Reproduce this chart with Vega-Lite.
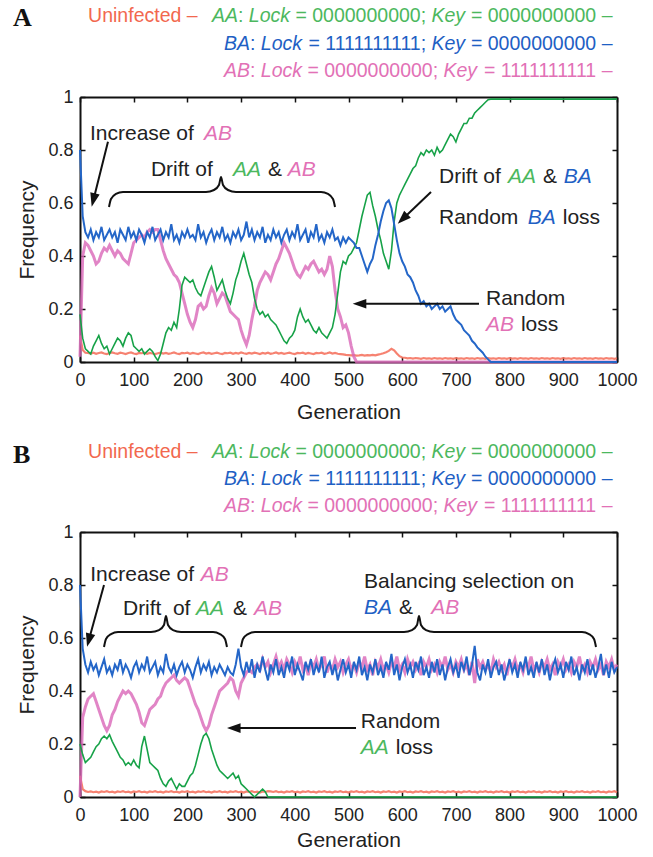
{
"$schema":"https://vega.github.io/schema/vega-lite/v6.json",
"background":"white",
"padding":{"left":12,"top":5,"right":5,"bottom":5},
"spacing":170,
"bounds":"flush",
"datasets":{
"A":[
{"g":0,"U":0.1,"AA":0.18,"BA":0.8,"AB":0.02},
{"g":5,"U":0.045,"AA":0.09,"BA":0.55,"AB":0.4},
{"g":10,"U":0.035,"AA":0.05,"BA":0.49,"AB":0.45},
{"g":15,"U":0.034,"AA":0.04,"BA":0.47,"AB":0.44},
{"g":20,"U":0.032,"AA":0.03,"BA":0.5,"AB":0.42},
{"g":25,"U":0.035,"AA":0.06,"BA":0.46,"AB":0.4},
{"g":30,"U":0.031,"AA":0.08,"BA":0.49,"AB":0.37},
{"g":35,"U":0.034,"AA":0.1,"BA":0.47,"AB":0.38},
{"g":40,"U":0.036,"AA":0.07,"BA":0.51,"AB":0.41},
{"g":45,"U":0.032,"AA":0.05,"BA":0.46,"AB":0.43},
{"g":50,"U":0.03,"AA":0.06,"BA":0.48,"AB":0.42},
{"g":55,"U":0.034,"AA":0.03,"BA":0.5,"AB":0.44},
{"g":60,"U":0.036,"AA":0.05,"BA":0.47,"AB":0.42},
{"g":65,"U":0.033,"AA":0.07,"BA":0.49,"AB":0.4},
{"g":70,"U":0.031,"AA":0.09,"BA":0.45,"AB":0.42},
{"g":75,"U":0.035,"AA":0.08,"BA":0.5,"AB":0.41},
{"g":80,"U":0.033,"AA":0.06,"BA":0.48,"AB":0.39},
{"g":85,"U":0.03,"AA":0.09,"BA":0.46,"AB":0.38},
{"g":90,"U":0.034,"AA":0.11,"BA":0.51,"AB":0.37},
{"g":95,"U":0.036,"AA":0.1,"BA":0.47,"AB":0.41},
{"g":100,"U":0.032,"AA":0.06,"BA":0.49,"AB":0.45},
{"g":105,"U":0.03,"AA":0.05,"BA":0.46,"AB":0.46},
{"g":110,"U":0.034,"AA":0.04,"BA":0.5,"AB":0.47},
{"g":115,"U":0.033,"AA":0.05,"BA":0.48,"AB":0.48},
{"g":120,"U":0.035,"AA":0.03,"BA":0.45,"AB":0.47},
{"g":125,"U":0.031,"AA":0.04,"BA":0.49,"AB":0.49},
{"g":130,"U":0.034,"AA":0.05,"BA":0.47,"AB":0.5},
{"g":135,"U":0.032,"AA":0.04,"BA":0.51,"AB":0.49},
{"g":140,"U":0.03,"AA":0.02,"BA":0.46,"AB":0.5},
{"g":145,"U":0.033,"AA":0.005,"BA":0.48,"AB":0.5},
{"g":150,"U":0.035,"AA":0.03,"BA":0.5,"AB":0.46},
{"g":155,"U":0.032,"AA":0.07,"BA":0.46,"AB":0.42},
{"g":160,"U":0.034,"AA":0.11,"BA":0.49,"AB":0.39},
{"g":165,"U":0.031,"AA":0.13,"BA":0.47,"AB":0.37},
{"g":170,"U":0.033,"AA":0.12,"BA":0.52,"AB":0.35},
{"g":175,"U":0.036,"AA":0.15,"BA":0.46,"AB":0.33},
{"g":180,"U":0.032,"AA":0.13,"BA":0.48,"AB":0.32},
{"g":185,"U":0.03,"AA":0.2,"BA":0.45,"AB":0.3},
{"g":190,"U":0.034,"AA":0.29,"BA":0.49,"AB":0.26},
{"g":195,"U":0.033,"AA":0.32,"BA":0.47,"AB":0.22},
{"g":200,"U":0.035,"AA":0.31,"BA":0.5,"AB":0.18},
{"g":205,"U":0.031,"AA":0.3,"BA":0.47,"AB":0.15},
{"g":210,"U":0.034,"AA":0.31,"BA":0.48,"AB":0.13},
{"g":215,"U":0.032,"AA":0.28,"BA":0.46,"AB":0.16},
{"g":220,"U":0.03,"AA":0.26,"BA":0.52,"AB":0.21},
{"g":225,"U":0.034,"AA":0.25,"BA":0.47,"AB":0.22},
{"g":230,"U":0.036,"AA":0.28,"BA":0.49,"AB":0.2},
{"g":235,"U":0.032,"AA":0.31,"BA":0.45,"AB":0.21},
{"g":240,"U":0.034,"AA":0.34,"BA":0.48,"AB":0.25},
{"g":245,"U":0.031,"AA":0.36,"BA":0.5,"AB":0.28},
{"g":250,"U":0.033,"AA":0.32,"BA":0.46,"AB":0.26},
{"g":255,"U":0.035,"AA":0.27,"BA":0.49,"AB":0.22},
{"g":260,"U":0.032,"AA":0.29,"BA":0.47,"AB":0.24},
{"g":265,"U":0.03,"AA":0.31,"BA":0.51,"AB":0.26},
{"g":270,"U":0.034,"AA":0.27,"BA":0.46,"AB":0.25},
{"g":275,"U":0.033,"AA":0.24,"BA":0.48,"AB":0.22},
{"g":280,"U":0.035,"AA":0.22,"BA":0.45,"AB":0.19},
{"g":285,"U":0.031,"AA":0.26,"BA":0.49,"AB":0.18},
{"g":290,"U":0.034,"AA":0.31,"BA":0.47,"AB":0.17},
{"g":295,"U":0.032,"AA":0.34,"BA":0.5,"AB":0.16},
{"g":300,"U":0.036,"AA":0.38,"BA":0.46,"AB":0.12},
{"g":305,"U":0.033,"AA":0.41,"BA":0.48,"AB":0.09},
{"g":310,"U":0.031,"AA":0.37,"BA":0.53,"AB":0.065},
{"g":315,"U":0.034,"AA":0.33,"BA":0.47,"AB":0.1},
{"g":320,"U":0.032,"AA":0.3,"BA":0.5,"AB":0.16},
{"g":325,"U":0.035,"AA":0.24,"BA":0.46,"AB":0.21},
{"g":330,"U":0.033,"AA":0.2,"BA":0.49,"AB":0.27},
{"g":335,"U":0.03,"AA":0.18,"BA":0.47,"AB":0.3},
{"g":340,"U":0.034,"AA":0.19,"BA":0.51,"AB":0.32},
{"g":345,"U":0.032,"AA":0.17,"BA":0.45,"AB":0.34},
{"g":350,"U":0.035,"AA":0.18,"BA":0.48,"AB":0.33},
{"g":355,"U":0.031,"AA":0.16,"BA":0.46,"AB":0.31},
{"g":360,"U":0.033,"AA":0.15,"BA":0.5,"AB":0.34},
{"g":365,"U":0.036,"AA":0.14,"BA":0.47,"AB":0.37},
{"g":370,"U":0.032,"AA":0.12,"BA":0.49,"AB":0.39},
{"g":375,"U":0.034,"AA":0.1,"BA":0.45,"AB":0.42},
{"g":380,"U":0.031,"AA":0.08,"BA":0.48,"AB":0.45},
{"g":385,"U":0.033,"AA":0.07,"BA":0.5,"AB":0.43},
{"g":390,"U":0.035,"AA":0.09,"BA":0.46,"AB":0.41},
{"g":395,"U":0.032,"AA":0.1,"BA":0.49,"AB":0.38},
{"g":400,"U":0.03,"AA":0.12,"BA":0.47,"AB":0.35},
{"g":405,"U":0.034,"AA":0.17,"BA":0.52,"AB":0.33},
{"g":410,"U":0.033,"AA":0.2,"BA":0.46,"AB":0.32},
{"g":415,"U":0.035,"AA":0.17,"BA":0.48,"AB":0.34},
{"g":420,"U":0.031,"AA":0.15,"BA":0.5,"AB":0.36},
{"g":425,"U":0.034,"AA":0.16,"BA":0.45,"AB":0.35},
{"g":430,"U":0.032,"AA":0.14,"BA":0.49,"AB":0.37},
{"g":435,"U":0.03,"AA":0.12,"BA":0.47,"AB":0.38},
{"g":440,"U":0.034,"AA":0.11,"BA":0.52,"AB":0.36},
{"g":445,"U":0.033,"AA":0.13,"BA":0.46,"AB":0.34},
{"g":450,"U":0.035,"AA":0.11,"BA":0.48,"AB":0.35},
{"g":455,"U":0.031,"AA":0.1,"BA":0.45,"AB":0.33},
{"g":460,"U":0.033,"AA":0.09,"BA":0.49,"AB":0.35},
{"g":465,"U":0.036,"AA":0.11,"BA":0.47,"AB":0.4},
{"g":470,"U":0.032,"AA":0.13,"BA":0.5,"AB":0.36},
{"g":475,"U":0.034,"AA":0.18,"BA":0.46,"AB":0.27},
{"g":480,"U":0.031,"AA":0.26,"BA":0.47,"AB":0.2},
{"g":485,"U":0.03,"AA":0.34,"BA":0.44,"AB":0.17},
{"g":490,"U":0.029,"AA":0.38,"BA":0.47,"AB":0.13},
{"g":495,"U":0.027,"AA":0.37,"BA":0.45,"AB":0.14},
{"g":500,"U":0.026,"AA":0.4,"BA":0.47,"AB":0.11},
{"g":505,"U":0.025,"AA":0.41,"BA":0.46,"AB":0.06},
{"g":510,"U":0.026,"AA":0.43,"BA":0.45,"AB":0.02},
{"g":515,"U":0.024,"AA":0.45,"BA":0.43,"AB":0},
{"g":520,"U":0.025,"AA":0.5,"BA":0.43,"AB":0},
{"g":525,"U":0.027,"AA":0.55,"BA":0.4,"AB":0},
{"g":530,"U":0.024,"AA":0.59,"BA":0.37,"AB":0},
{"g":535,"U":0.026,"AA":0.63,"BA":0.34,"AB":0},
{"g":540,"U":0.025,"AA":0.64,"BA":0.37,"AB":0},
{"g":545,"U":0.027,"AA":0.59,"BA":0.39,"AB":0},
{"g":550,"U":0.025,"AA":0.55,"BA":0.44,"AB":0},
{"g":555,"U":0.028,"AA":0.5,"BA":0.48,"AB":0},
{"g":560,"U":0.03,"AA":0.46,"BA":0.53,"AB":0},
{"g":565,"U":0.033,"AA":0.41,"BA":0.57,"AB":0},
{"g":570,"U":0.037,"AA":0.38,"BA":0.6,"AB":0},
{"g":575,"U":0.042,"AA":0.35,"BA":0.61,"AB":0},
{"g":580,"U":0.05,"AA":0.42,"BA":0.58,"AB":0},
{"g":585,"U":0.044,"AA":0.53,"BA":0.52,"AB":0},
{"g":590,"U":0.032,"AA":0.6,"BA":0.46,"AB":0},
{"g":595,"U":0.022,"AA":0.63,"BA":0.41,"AB":0},
{"g":600,"U":0.017,"AA":0.65,"BA":0.38,"AB":0},
{"g":605,"U":0.016,"AA":0.67,"BA":0.36,"AB":0},
{"g":610,"U":0.014,"AA":0.69,"BA":0.33,"AB":0},
{"g":615,"U":0.015,"AA":0.71,"BA":0.32,"AB":0},
{"g":620,"U":0.013,"AA":0.73,"BA":0.3,"AB":0},
{"g":625,"U":0.015,"AA":0.74,"BA":0.27,"AB":0},
{"g":630,"U":0.014,"AA":0.77,"BA":0.25,"AB":0},
{"g":635,"U":0.012,"AA":0.79,"BA":0.22,"AB":0},
{"g":640,"U":0.015,"AA":0.78,"BA":0.23,"AB":0},
{"g":645,"U":0.013,"AA":0.8,"BA":0.21,"AB":0},
{"g":650,"U":0.014,"AA":0.79,"BA":0.22,"AB":0},
{"g":655,"U":0.012,"AA":0.8,"BA":0.2,"AB":0},
{"g":660,"U":0.015,"AA":0.78,"BA":0.21,"AB":0},
{"g":665,"U":0.013,"AA":0.81,"BA":0.22,"AB":0},
{"g":670,"U":0.014,"AA":0.79,"BA":0.2,"AB":0},
{"g":675,"U":0.012,"AA":0.8,"BA":0.21,"AB":0},
{"g":680,"U":0.015,"AA":0.82,"BA":0.19,"AB":0},
{"g":685,"U":0.013,"AA":0.84,"BA":0.2,"AB":0},
{"g":690,"U":0.014,"AA":0.86,"BA":0.21,"AB":0},
{"g":695,"U":0.012,"AA":0.85,"BA":0.18,"AB":0},
{"g":700,"U":0.015,"AA":0.83,"BA":0.16,"AB":0},
{"g":705,"U":0.013,"AA":0.86,"BA":0.15,"AB":0},
{"g":710,"U":0.014,"AA":0.88,"BA":0.14,"AB":0},
{"g":715,"U":0.012,"AA":0.9,"BA":0.12,"AB":0},
{"g":720,"U":0.015,"AA":0.9,"BA":0.11,"AB":0},
{"g":725,"U":0.013,"AA":0.92,"BA":0.1,"AB":0},
{"g":730,"U":0.014,"AA":0.92,"BA":0.08,"AB":0},
{"g":735,"U":0.012,"AA":0.94,"BA":0.07,"AB":0},
{"g":740,"U":0.015,"AA":0.95,"BA":0.055,"AB":0},
{"g":745,"U":0.013,"AA":0.96,"BA":0.045,"AB":0},
{"g":750,"U":0.014,"AA":0.97,"BA":0.035,"AB":0},
{"g":755,"U":0.012,"AA":0.98,"BA":0.02,"AB":0},
{"g":760,"U":0.015,"AA":0.99,"BA":0.01,"AB":0},
{"g":765,"U":0.013,"AA":0.992,"BA":0,"AB":0},
{"g":770,"U":0.014,"AA":0.992,"BA":0,"AB":0},
{"g":775,"U":0.012,"AA":0.992,"BA":0,"AB":0},
{"g":780,"U":0.015,"AA":0.992,"BA":0,"AB":0},
{"g":785,"U":0.013,"AA":0.992,"BA":0,"AB":0},
{"g":790,"U":0.014,"AA":0.992,"BA":0,"AB":0},
{"g":795,"U":0.012,"AA":0.992,"BA":0,"AB":0},
{"g":800,"U":0.015,"AA":0.992,"BA":0,"AB":0},
{"g":805,"U":0.013,"AA":0.992,"BA":0,"AB":0},
{"g":810,"U":0.014,"AA":0.992,"BA":0,"AB":0},
{"g":815,"U":0.012,"AA":0.992,"BA":0,"AB":0},
{"g":820,"U":0.015,"AA":0.992,"BA":0,"AB":0},
{"g":825,"U":0.013,"AA":0.992,"BA":0,"AB":0},
{"g":830,"U":0.014,"AA":0.992,"BA":0,"AB":0},
{"g":835,"U":0.012,"AA":0.992,"BA":0,"AB":0},
{"g":840,"U":0.015,"AA":0.992,"BA":0,"AB":0},
{"g":845,"U":0.013,"AA":0.992,"BA":0,"AB":0},
{"g":850,"U":0.014,"AA":0.992,"BA":0,"AB":0},
{"g":855,"U":0.012,"AA":0.992,"BA":0,"AB":0},
{"g":860,"U":0.015,"AA":0.992,"BA":0,"AB":0},
{"g":865,"U":0.013,"AA":0.992,"BA":0,"AB":0},
{"g":870,"U":0.014,"AA":0.992,"BA":0,"AB":0},
{"g":875,"U":0.012,"AA":0.992,"BA":0,"AB":0},
{"g":880,"U":0.015,"AA":0.992,"BA":0,"AB":0},
{"g":885,"U":0.013,"AA":0.992,"BA":0,"AB":0},
{"g":890,"U":0.014,"AA":0.992,"BA":0,"AB":0},
{"g":895,"U":0.012,"AA":0.992,"BA":0,"AB":0},
{"g":900,"U":0.015,"AA":0.992,"BA":0,"AB":0},
{"g":905,"U":0.013,"AA":0.992,"BA":0,"AB":0},
{"g":910,"U":0.014,"AA":0.992,"BA":0,"AB":0},
{"g":915,"U":0.012,"AA":0.992,"BA":0,"AB":0},
{"g":920,"U":0.015,"AA":0.992,"BA":0,"AB":0},
{"g":925,"U":0.013,"AA":0.992,"BA":0,"AB":0},
{"g":930,"U":0.014,"AA":0.992,"BA":0,"AB":0},
{"g":935,"U":0.012,"AA":0.992,"BA":0,"AB":0},
{"g":940,"U":0.015,"AA":0.992,"BA":0,"AB":0},
{"g":945,"U":0.013,"AA":0.992,"BA":0,"AB":0},
{"g":950,"U":0.014,"AA":0.992,"BA":0,"AB":0},
{"g":955,"U":0.012,"AA":0.992,"BA":0,"AB":0},
{"g":960,"U":0.015,"AA":0.992,"BA":0,"AB":0},
{"g":965,"U":0.013,"AA":0.992,"BA":0,"AB":0},
{"g":970,"U":0.014,"AA":0.992,"BA":0,"AB":0},
{"g":975,"U":0.012,"AA":0.992,"BA":0,"AB":0},
{"g":980,"U":0.015,"AA":0.992,"BA":0,"AB":0},
{"g":985,"U":0.013,"AA":0.992,"BA":0,"AB":0},
{"g":990,"U":0.014,"AA":0.992,"BA":0,"AB":0},
{"g":995,"U":0.012,"AA":0.992,"BA":0,"AB":0},
{"g":1000,"U":0.014,"AA":0.992,"BA":0,"AB":0}
],
"B":[
{"g":0,"U":0.08,"AA":0.2,"BA":0.8,"AB":0},
{"g":5,"U":0.03,"AA":0.16,"BA":0.56,"AB":0.3},
{"g":10,"U":0.022,"AA":0.13,"BA":0.5,"AB":0.34},
{"g":15,"U":0.019,"AA":0.14,"BA":0.47,"AB":0.37},
{"g":20,"U":0.021,"AA":0.15,"BA":0.51,"AB":0.38},
{"g":25,"U":0.018,"AA":0.17,"BA":0.48,"AB":0.39},
{"g":30,"U":0.02,"AA":0.19,"BA":0.5,"AB":0.36},
{"g":35,"U":0.017,"AA":0.2,"BA":0.46,"AB":0.33},
{"g":40,"U":0.021,"AA":0.22,"BA":0.49,"AB":0.3},
{"g":45,"U":0.019,"AA":0.23,"BA":0.52,"AB":0.27},
{"g":50,"U":0.022,"AA":0.22,"BA":0.47,"AB":0.25},
{"g":55,"U":0.018,"AA":0.235,"BA":0.49,"AB":0.27},
{"g":60,"U":0.02,"AA":0.21,"BA":0.46,"AB":0.31},
{"g":65,"U":0.017,"AA":0.19,"BA":0.5,"AB":0.33},
{"g":70,"U":0.021,"AA":0.17,"BA":0.48,"AB":0.36},
{"g":75,"U":0.019,"AA":0.15,"BA":0.52,"AB":0.38},
{"g":80,"U":0.022,"AA":0.14,"BA":0.47,"AB":0.4},
{"g":85,"U":0.018,"AA":0.12,"BA":0.5,"AB":0.39},
{"g":90,"U":0.02,"AA":0.13,"BA":0.48,"AB":0.4},
{"g":95,"U":0.017,"AA":0.12,"BA":0.45,"AB":0.39},
{"g":100,"U":0.021,"AA":0.14,"BA":0.49,"AB":0.37},
{"g":105,"U":0.019,"AA":0.12,"BA":0.51,"AB":0.35},
{"g":110,"U":0.022,"AA":0.11,"BA":0.47,"AB":0.32},
{"g":115,"U":0.018,"AA":0.19,"BA":0.5,"AB":0.28},
{"g":120,"U":0.02,"AA":0.23,"BA":0.48,"AB":0.27},
{"g":125,"U":0.017,"AA":0.18,"BA":0.53,"AB":0.3},
{"g":130,"U":0.021,"AA":0.13,"BA":0.47,"AB":0.33},
{"g":135,"U":0.019,"AA":0.12,"BA":0.49,"AB":0.34},
{"g":140,"U":0.022,"AA":0.11,"BA":0.51,"AB":0.35},
{"g":145,"U":0.018,"AA":0.1,"BA":0.46,"AB":0.37},
{"g":150,"U":0.02,"AA":0.07,"BA":0.49,"AB":0.38},
{"g":155,"U":0.017,"AA":0.05,"BA":0.47,"AB":0.41},
{"g":160,"U":0.021,"AA":0.04,"BA":0.54,"AB":0.43},
{"g":165,"U":0.019,"AA":0.06,"BA":0.49,"AB":0.44},
{"g":170,"U":0.022,"AA":0.07,"BA":0.47,"AB":0.45},
{"g":175,"U":0.018,"AA":0.05,"BA":0.5,"AB":0.46},
{"g":180,"U":0.02,"AA":0.03,"BA":0.46,"AB":0.44},
{"g":185,"U":0.017,"AA":0.05,"BA":0.49,"AB":0.43},
{"g":190,"U":0.021,"AA":0.04,"BA":0.51,"AB":0.44},
{"g":195,"U":0.019,"AA":0.04,"BA":0.47,"AB":0.45},
{"g":200,"U":0.022,"AA":0.06,"BA":0.5,"AB":0.44},
{"g":205,"U":0.018,"AA":0.08,"BA":0.48,"AB":0.41},
{"g":210,"U":0.02,"AA":0.09,"BA":0.45,"AB":0.38},
{"g":215,"U":0.017,"AA":0.12,"BA":0.49,"AB":0.35},
{"g":220,"U":0.021,"AA":0.16,"BA":0.52,"AB":0.33},
{"g":225,"U":0.019,"AA":0.2,"BA":0.47,"AB":0.3},
{"g":230,"U":0.022,"AA":0.23,"BA":0.5,"AB":0.27},
{"g":235,"U":0.018,"AA":0.24,"BA":0.48,"AB":0.25},
{"g":240,"U":0.02,"AA":0.22,"BA":0.51,"AB":0.27},
{"g":245,"U":0.017,"AA":0.18,"BA":0.46,"AB":0.31},
{"g":250,"U":0.021,"AA":0.15,"BA":0.49,"AB":0.34},
{"g":255,"U":0.019,"AA":0.12,"BA":0.47,"AB":0.37},
{"g":260,"U":0.022,"AA":0.1,"BA":0.5,"AB":0.4},
{"g":265,"U":0.018,"AA":0.09,"BA":0.48,"AB":0.41},
{"g":270,"U":0.02,"AA":0.08,"BA":0.46,"AB":0.42},
{"g":275,"U":0.017,"AA":0.07,"BA":0.49,"AB":0.43},
{"g":280,"U":0.021,"AA":0.08,"BA":0.47,"AB":0.45},
{"g":285,"U":0.019,"AA":0.09,"BA":0.46,"AB":0.44},
{"g":290,"U":0.022,"AA":0.07,"BA":0.5,"AB":0.4},
{"g":295,"U":0.018,"AA":0.08,"BA":0.56,"AB":0.38},
{"g":300,"U":0.02,"AA":0.05,"BA":0.49,"AB":0.43},
{"g":305,"U":0.017,"AA":0.04,"BA":0.46,"AB":0.45},
{"g":310,"U":0.021,"AA":0.03,"BA":0.51,"AB":0.47},
{"g":315,"U":0.019,"AA":0.02,"BA":0.47,"AB":0.48},
{"g":320,"U":0.022,"AA":0.01,"BA":0.52,"AB":0.47},
{"g":325,"U":0.018,"AA":0,"BA":0.45,"AB":0.49},
{"g":330,"U":0.02,"AA":0.01,"BA":0.5,"AB":0.5},
{"g":335,"U":0.017,"AA":0.02,"BA":0.47,"AB":0.48},
{"g":340,"U":0.021,"AA":0.03,"BA":0.53,"AB":0.52},
{"g":345,"U":0.019,"AA":0.02,"BA":0.48,"AB":0.49},
{"g":350,"U":0.022,"AA":0,"BA":0.44,"AB":0.51},
{"g":355,"U":0.021,"AA":0,"BA":0.5,"AB":0.47},
{"g":360,"U":0.019,"AA":0,"BA":0.47,"AB":0.5},
{"g":365,"U":0.022,"AA":0,"BA":0.52,"AB":0.53},
{"g":370,"U":0.018,"AA":0,"BA":0.46,"AB":0.49},
{"g":375,"U":0.02,"AA":0,"BA":0.49,"AB":0.51},
{"g":380,"U":0.017,"AA":0,"BA":0.45,"AB":0.48},
{"g":385,"U":0.021,"AA":0,"BA":0.51,"AB":0.52},
{"g":390,"U":0.019,"AA":0,"BA":0.48,"AB":0.5},
{"g":395,"U":0.022,"AA":0,"BA":0.53,"AB":0.47},
{"g":400,"U":0.018,"AA":0,"BA":0.46,"AB":0.51},
{"g":405,"U":0.02,"AA":0,"BA":0.5,"AB":0.49},
{"g":410,"U":0.017,"AA":0,"BA":0.47,"AB":0.53},
{"g":415,"U":0.021,"AA":0,"BA":0.44,"AB":0.48},
{"g":420,"U":0.019,"AA":0,"BA":0.51,"AB":0.5},
{"g":425,"U":0.022,"AA":0,"BA":0.48,"AB":0.46},
{"g":430,"U":0.018,"AA":0,"BA":0.52,"AB":0.51},
{"g":435,"U":0.02,"AA":0,"BA":0.46,"AB":0.49},
{"g":440,"U":0.017,"AA":0,"BA":0.5,"AB":0.52},
{"g":445,"U":0.021,"AA":0,"BA":0.47,"AB":0.48},
{"g":450,"U":0.019,"AA":0,"BA":0.53,"AB":0.5},
{"g":455,"U":0.022,"AA":0,"BA":0.45,"AB":0.53},
{"g":460,"U":0.018,"AA":0,"BA":0.49,"AB":0.47},
{"g":465,"U":0.02,"AA":0,"BA":0.51,"AB":0.5},
{"g":470,"U":0.017,"AA":0,"BA":0.46,"AB":0.48},
{"g":475,"U":0.021,"AA":0,"BA":0.5,"AB":0.52},
{"g":480,"U":0.019,"AA":0,"BA":0.44,"AB":0.49},
{"g":485,"U":0.022,"AA":0,"BA":0.48,"AB":0.51},
{"g":490,"U":0.018,"AA":0,"BA":0.52,"AB":0.47},
{"g":495,"U":0.02,"AA":0,"BA":0.47,"AB":0.5},
{"g":500,"U":0.017,"AA":0,"BA":0.5,"AB":0.52},
{"g":505,"U":0.021,"AA":0,"BA":0.45,"AB":0.48},
{"g":510,"U":0.019,"AA":0,"BA":0.51,"AB":0.5},
{"g":515,"U":0.022,"AA":0,"BA":0.48,"AB":0.47},
{"g":520,"U":0.018,"AA":0,"BA":0.53,"AB":0.51},
{"g":525,"U":0.02,"AA":0,"BA":0.46,"AB":0.49},
{"g":530,"U":0.017,"AA":0,"BA":0.49,"AB":0.53},
{"g":535,"U":0.021,"AA":0,"BA":0.44,"AB":0.48},
{"g":540,"U":0.019,"AA":0,"BA":0.5,"AB":0.5},
{"g":545,"U":0.022,"AA":0,"BA":0.47,"AB":0.46},
{"g":550,"U":0.018,"AA":0,"BA":0.52,"AB":0.51},
{"g":555,"U":0.02,"AA":0,"BA":0.46,"AB":0.49},
{"g":560,"U":0.017,"AA":0,"BA":0.49,"AB":0.52},
{"g":565,"U":0.021,"AA":0,"BA":0.45,"AB":0.48},
{"g":570,"U":0.019,"AA":0,"BA":0.51,"AB":0.5},
{"g":575,"U":0.022,"AA":0,"BA":0.48,"AB":0.47},
{"g":580,"U":0.018,"AA":0,"BA":0.54,"AB":0.51},
{"g":585,"U":0.02,"AA":0,"BA":0.46,"AB":0.49},
{"g":590,"U":0.017,"AA":0,"BA":0.5,"AB":0.53},
{"g":595,"U":0.021,"AA":0,"BA":0.44,"AB":0.48},
{"g":600,"U":0.019,"AA":0,"BA":0.49,"AB":0.5},
{"g":605,"U":0.022,"AA":0,"BA":0.52,"AB":0.47},
{"g":610,"U":0.018,"AA":0,"BA":0.47,"AB":0.52},
{"g":615,"U":0.02,"AA":0,"BA":0.5,"AB":0.49},
{"g":620,"U":0.017,"AA":0,"BA":0.45,"AB":0.51},
{"g":625,"U":0.021,"AA":0,"BA":0.51,"AB":0.48},
{"g":630,"U":0.019,"AA":0,"BA":0.48,"AB":0.5},
{"g":635,"U":0.022,"AA":0,"BA":0.53,"AB":0.46},
{"g":640,"U":0.018,"AA":0,"BA":0.46,"AB":0.51},
{"g":645,"U":0.02,"AA":0,"BA":0.49,"AB":0.49},
{"g":650,"U":0.017,"AA":0,"BA":0.45,"AB":0.52},
{"g":655,"U":0.021,"AA":0,"BA":0.51,"AB":0.48},
{"g":660,"U":0.019,"AA":0,"BA":0.47,"AB":0.5},
{"g":665,"U":0.022,"AA":0,"BA":0.52,"AB":0.47},
{"g":670,"U":0.018,"AA":0,"BA":0.46,"AB":0.51},
{"g":675,"U":0.02,"AA":0,"BA":0.5,"AB":0.49},
{"g":680,"U":0.017,"AA":0,"BA":0.44,"AB":0.53},
{"g":685,"U":0.021,"AA":0,"BA":0.49,"AB":0.48},
{"g":690,"U":0.019,"AA":0,"BA":0.52,"AB":0.5},
{"g":695,"U":0.022,"AA":0,"BA":0.47,"AB":0.47},
{"g":700,"U":0.018,"AA":0,"BA":0.5,"AB":0.51},
{"g":705,"U":0.02,"AA":0,"BA":0.45,"AB":0.49},
{"g":710,"U":0.017,"AA":0,"BA":0.51,"AB":0.52},
{"g":715,"U":0.021,"AA":0,"BA":0.48,"AB":0.48},
{"g":720,"U":0.019,"AA":0,"BA":0.53,"AB":0.5},
{"g":725,"U":0.022,"AA":0,"BA":0.46,"AB":0.46},
{"g":730,"U":0.018,"AA":0,"BA":0.5,"AB":0.51},
{"g":735,"U":0.02,"AA":0,"BA":0.57,"AB":0.43},
{"g":740,"U":0.017,"AA":0,"BA":0.47,"AB":0.52},
{"g":745,"U":0.021,"AA":0,"BA":0.44,"AB":0.49},
{"g":750,"U":0.019,"AA":0,"BA":0.5,"AB":0.51},
{"g":755,"U":0.022,"AA":0,"BA":0.47,"AB":0.48},
{"g":760,"U":0.018,"AA":0,"BA":0.52,"AB":0.5},
{"g":765,"U":0.02,"AA":0,"BA":0.45,"AB":0.47},
{"g":770,"U":0.017,"AA":0,"BA":0.49,"AB":0.52},
{"g":775,"U":0.021,"AA":0,"BA":0.51,"AB":0.49},
{"g":780,"U":0.019,"AA":0,"BA":0.46,"AB":0.51},
{"g":785,"U":0.022,"AA":0,"BA":0.5,"AB":0.48},
{"g":790,"U":0.018,"AA":0,"BA":0.44,"AB":0.5},
{"g":795,"U":0.02,"AA":0,"BA":0.48,"AB":0.46},
{"g":800,"U":0.017,"AA":0,"BA":0.52,"AB":0.51},
{"g":805,"U":0.021,"AA":0,"BA":0.47,"AB":0.49},
{"g":810,"U":0.019,"AA":0,"BA":0.5,"AB":0.52},
{"g":815,"U":0.022,"AA":0,"BA":0.45,"AB":0.48},
{"g":820,"U":0.018,"AA":0,"BA":0.51,"AB":0.5},
{"g":825,"U":0.02,"AA":0,"BA":0.48,"AB":0.47},
{"g":830,"U":0.017,"AA":0,"BA":0.53,"AB":0.51},
{"g":835,"U":0.021,"AA":0,"BA":0.46,"AB":0.49},
{"g":840,"U":0.019,"AA":0,"BA":0.49,"AB":0.53},
{"g":845,"U":0.022,"AA":0,"BA":0.45,"AB":0.48},
{"g":850,"U":0.018,"AA":0,"BA":0.51,"AB":0.5},
{"g":855,"U":0.02,"AA":0,"BA":0.47,"AB":0.47},
{"g":860,"U":0.017,"AA":0,"BA":0.52,"AB":0.51},
{"g":865,"U":0.021,"AA":0,"BA":0.46,"AB":0.49},
{"g":870,"U":0.019,"AA":0,"BA":0.5,"AB":0.52},
{"g":875,"U":0.022,"AA":0,"BA":0.44,"AB":0.48},
{"g":880,"U":0.018,"AA":0,"BA":0.49,"AB":0.5},
{"g":885,"U":0.02,"AA":0,"BA":0.52,"AB":0.46},
{"g":890,"U":0.017,"AA":0,"BA":0.47,"AB":0.51},
{"g":895,"U":0.021,"AA":0,"BA":0.5,"AB":0.49},
{"g":900,"U":0.019,"AA":0,"BA":0.45,"AB":0.52},
{"g":905,"U":0.022,"AA":0,"BA":0.51,"AB":0.48},
{"g":910,"U":0.018,"AA":0,"BA":0.48,"AB":0.5},
{"g":915,"U":0.02,"AA":0,"BA":0.53,"AB":0.47},
{"g":920,"U":0.017,"AA":0,"BA":0.46,"AB":0.51},
{"g":925,"U":0.021,"AA":0,"BA":0.49,"AB":0.49},
{"g":930,"U":0.019,"AA":0,"BA":0.44,"AB":0.53},
{"g":935,"U":0.022,"AA":0,"BA":0.5,"AB":0.48},
{"g":940,"U":0.018,"AA":0,"BA":0.47,"AB":0.5},
{"g":945,"U":0.02,"AA":0,"BA":0.52,"AB":0.47},
{"g":950,"U":0.017,"AA":0,"BA":0.46,"AB":0.51},
{"g":955,"U":0.021,"AA":0,"BA":0.5,"AB":0.49},
{"g":960,"U":0.019,"AA":0,"BA":0.45,"AB":0.52},
{"g":965,"U":0.022,"AA":0,"BA":0.49,"AB":0.48},
{"g":970,"U":0.018,"AA":0,"BA":0.54,"AB":0.5},
{"g":975,"U":0.02,"AA":0,"BA":0.46,"AB":0.46},
{"g":980,"U":0.017,"AA":0,"BA":0.5,"AB":0.51},
{"g":985,"U":0.021,"AA":0,"BA":0.45,"AB":0.49},
{"g":990,"U":0.019,"AA":0,"BA":0.51,"AB":0.52},
{"g":995,"U":0.022,"AA":0,"BA":0.47,"AB":0.48},
{"g":1000,"U":0.018,"AA":0,"BA":0.49,"AB":0.5}
],
"txt":[
{"p":"A","k":"lab","g":-125,"f":1.298,"t":"A","c":"k"},
{"p":"A","k":"leg","g":219,"f":1.305,"t":"Uninfected –","c":"U"},
{"p":"A","k":"leg","g":991.6,"f":1.305,"t":"= 0000000000 –","c":"AA"},
{"p":"A","k":"legi","g":717.1,"f":1.305,"t":"Key","c":"AA"},
{"p":"A","k":"leg","g":644.5,"f":1.305,"t":"= 0000000000;","c":"AA"},
{"p":"A","k":"legi","g":391.1,"f":1.305,"t":"Lock","c":"AA"},
{"p":"A","k":"leg","g":304.3,"f":1.305,"t":":","c":"AA"},
{"p":"A","k":"legi","g":294.2,"f":1.305,"t":"AA","c":"AA"},
{"p":"A","k":"leg","g":991.6,"f":1.2,"t":"= 0000000000 –","c":"BA"},
{"p":"A","k":"legi","g":717.1,"f":1.2,"t":"Key","c":"BA"},
{"p":"A","k":"leg","g":644.5,"f":1.2,"t":"= 1111111111;","c":"BA"},
{"p":"A","k":"legi","g":413.4,"f":1.2,"t":"Lock","c":"BA"},
{"p":"A","k":"leg","g":326.6,"f":1.2,"t":":","c":"BA"},
{"p":"A","k":"legi","g":316.6,"f":1.2,"t":"BA","c":"BA"},
{"p":"A","k":"leg","g":991.6,"f":1.098,"t":"= 1111111111 –","c":"AB"},
{"p":"A","k":"legi","g":739.5,"f":1.098,"t":"Key","c":"AB"},
{"p":"A","k":"leg","g":666.9,"f":1.098,"t":"= 0000000000;","c":"AB"},
{"p":"A","k":"legi","g":413.4,"f":1.098,"t":"Lock","c":"AB"},
{"p":"A","k":"leg","g":326.6,"f":1.098,"t":":","c":"AB"},
{"p":"A","k":"legi","g":316.6,"f":1.098,"t":"AB","c":"AB"},
{"p":"A","k":"n","g":18.6,"f":0.86,"t":"Increase of","c":"k"},
{"p":"A","k":"i","g":231,"f":0.86,"t":"AB","c":"AB"},
{"p":"A","k":"n","g":132,"f":0.725,"t":"Drift of","c":"k"},
{"p":"A","k":"i","g":285,"f":0.725,"t":"AA","c":"AA"},
{"p":"A","k":"n","g":350,"f":0.725,"t":"&","c":"k"},
{"p":"A","k":"i","g":387,"f":0.725,"t":"AB","c":"AB"},
{"p":"A","k":"n","g":668.5,"f":0.698,"t":"Drift of","c":"k"},
{"p":"A","k":"i","g":797,"f":0.698,"t":"AA","c":"AA"},
{"p":"A","k":"n","g":862,"f":0.698,"t":"&","c":"k"},
{"p":"A","k":"i","g":901,"f":0.698,"t":"BA","c":"BA"},
{"p":"A","k":"n","g":668.5,"f":0.543,"t":"Random","c":"k"},
{"p":"A","k":"i","g":834,"f":0.543,"t":"BA","c":"BA"},
{"p":"A","k":"n","g":899,"f":0.543,"t":"loss","c":"k"},
{"p":"A","k":"n","g":756,"f":0.238,"t":"Random","c":"k"},
{"p":"A","k":"i","g":756,"f":0.14,"t":"AB","c":"AB"},
{"p":"A","k":"n","g":821,"f":0.14,"t":"loss","c":"k"},
{"p":"B","k":"lab","g":-125,"f":1.29,"t":"B","c":"k"},
{"p":"B","k":"leg","g":219,"f":1.302,"t":"Uninfected –","c":"U"},
{"p":"B","k":"leg","g":991.6,"f":1.302,"t":"= 0000000000 –","c":"AA"},
{"p":"B","k":"legi","g":717.1,"f":1.302,"t":"Key","c":"AA"},
{"p":"B","k":"leg","g":644.5,"f":1.302,"t":"= 0000000000;","c":"AA"},
{"p":"B","k":"legi","g":391.1,"f":1.302,"t":"Lock","c":"AA"},
{"p":"B","k":"leg","g":304.3,"f":1.302,"t":":","c":"AA"},
{"p":"B","k":"legi","g":294.2,"f":1.302,"t":"AA","c":"AA"},
{"p":"B","k":"leg","g":991.6,"f":1.2,"t":"= 0000000000 –","c":"BA"},
{"p":"B","k":"legi","g":717.1,"f":1.2,"t":"Key","c":"BA"},
{"p":"B","k":"leg","g":644.5,"f":1.2,"t":"= 1111111111;","c":"BA"},
{"p":"B","k":"legi","g":413.4,"f":1.2,"t":"Lock","c":"BA"},
{"p":"B","k":"leg","g":326.6,"f":1.2,"t":":","c":"BA"},
{"p":"B","k":"legi","g":316.6,"f":1.2,"t":"BA","c":"BA"},
{"p":"B","k":"leg","g":991.6,"f":1.098,"t":"= 1111111111 –","c":"AB"},
{"p":"B","k":"legi","g":739.5,"f":1.098,"t":"Key","c":"AB"},
{"p":"B","k":"leg","g":666.9,"f":1.098,"t":"= 0000000000;","c":"AB"},
{"p":"B","k":"legi","g":413.4,"f":1.098,"t":"Lock","c":"AB"},
{"p":"B","k":"leg","g":326.6,"f":1.098,"t":":","c":"AB"},
{"p":"B","k":"legi","g":316.6,"f":1.098,"t":"AB","c":"AB"},
{"p":"B","k":"n","g":19,"f":0.838,"t":"Increase of","c":"k"},
{"p":"B","k":"i","g":225,"f":0.838,"t":"AB","c":"AB"},
{"p":"B","k":"n","g":80,"f":0.709,"t":"Drift","c":"k"},
{"p":"B","k":"n","g":173,"f":0.709,"t":"of","c":"k"},
{"p":"B","k":"i","g":216,"f":0.709,"t":"AA","c":"AA"},
{"p":"B","k":"n","g":285,"f":0.709,"t":"&","c":"k"},
{"p":"B","k":"i","g":324,"f":0.709,"t":"AB","c":"AB"},
{"p":"B","k":"n","g":529,"f":0.811,"t":"Balancing selection on","c":"k"},
{"p":"B","k":"i","g":529,"f":0.713,"t":"BA","c":"BA"},
{"p":"B","k":"n","g":594,"f":0.713,"t":"&","c":"k"},
{"p":"B","k":"i","g":654,"f":0.713,"t":"AB","c":"AB"},
{"p":"B","k":"n","g":523,"f":0.283,"t":"Random","c":"k"},
{"p":"B","k":"i","g":523,"f":0.185,"t":"AA","c":"AA"},
{"p":"B","k":"n","g":588,"f":0.185,"t":"loss","c":"k"}
],
"arr":[
{"p":"A","g":25.4,"f":0.6155,"g2":52.1,"f2":0.831,"a":194},
{"p":"A","g":602.4,"f":0.5426,"g2":653.6,"f2":0.6415,"a":226},
{"p":"A","g":522.7,"f":0.22,"g2":743,"f2":0.22,"a":270},
{"p":"B","g":17,"f":0.596,"g2":44.7,"f2":0.8,"a":195},
{"p":"B","g":288.6,"f":0.26,"g2":514,"f2":0.26,"a":270}
],
"br":[
{"p":"A","b":"a1","g":54.0,"f":0.585},
{"p":"A","b":"a1","g":57.7,"f":0.615},
{"p":"A","b":"a1","g":67.0,"f":0.634},
{"p":"A","b":"a1","g":80.1,"f":0.6415},
{"p":"A","b":"a1","g":234.6,"f":0.6415},
{"p":"A","b":"a1","g":249.5,"f":0.649},
{"p":"A","b":"a1","g":258.8,"f":0.668},
{"p":"A","b":"a1","g":262.6,"f":0.698},
{"p":"A","b":"a1","g":266.3,"f":0.668},
{"p":"A","b":"a1","g":275.6,"f":0.649},
{"p":"A","b":"a1","g":290.5,"f":0.6415},
{"p":"A","b":"a1","g":448.8,"f":0.6415},
{"p":"A","b":"a1","g":461.8,"f":0.634},
{"p":"A","b":"a1","g":471.1,"f":0.615},
{"p":"A","b":"a1","g":474.9,"f":0.585},
{"p":"B","b":"b1","g":44.7,"f":0.566},
{"p":"B","b":"b1","g":48.4,"f":0.596},
{"p":"B","b":"b1","g":57.7,"f":0.615},
{"p":"B","b":"b1","g":70.8,"f":0.623},
{"p":"B","b":"b1","g":132.2,"f":0.623},
{"p":"B","b":"b1","g":147.1,"f":0.63},
{"p":"B","b":"b1","g":156.4,"f":0.649},
{"p":"B","b":"b1","g":160.1,"f":0.683},
{"p":"B","b":"b1","g":163.9,"f":0.649},
{"p":"B","b":"b1","g":173.2,"f":0.63},
{"p":"B","b":"b1","g":188.1,"f":0.623},
{"p":"B","b":"b1","g":247.7,"f":0.623},
{"p":"B","b":"b1","g":260.7,"f":0.615},
{"p":"B","b":"b1","g":270.0,"f":0.596},
{"p":"B","b":"b1","g":273.7,"f":0.566},
{"p":"B","b":"b2","g":299.8,"f":0.566},
{"p":"B","b":"b2","g":303.5,"f":0.596},
{"p":"B","b":"b2","g":312.8,"f":0.615},
{"p":"B","b":"b2","g":325.9,"f":0.623},
{"p":"B","b":"b2","g":603.4,"f":0.623},
{"p":"B","b":"b2","g":618.2,"f":0.63},
{"p":"B","b":"b2","g":627.6,"f":0.649},
{"p":"B","b":"b2","g":631.3,"f":0.683},
{"p":"B","b":"b2","g":635.0,"f":0.649},
{"p":"B","b":"b2","g":644.3,"f":0.63},
{"p":"B","b":"b2","g":659.2,"f":0.623},
{"p":"B","b":"b2","g":934.8,"f":0.623},
{"p":"B","b":"b2","g":947.9,"f":0.615},
{"p":"B","b":"b2","g":957.2,"f":0.596},
{"p":"B","b":"b2","g":960.9,"f":0.566}
]
},
"vconcat":[
{
"width":537,"height":265,
"encoding":{
"x":{"field":"g","type":"quantitative","scale":{"domain":[0,1000],"nice":false,"zero":false},"axis":null},
"y":{"field":"f","type":"quantitative","scale":{"domain":[0,1],"nice":false,"zero":false},"axis":null}
},
"layer":[
{"data":{"name":"A"},"transform":[{"fold":["U","AA","BA","AB"],"as":["s","f"]},{"filter":"datum.s==='U'"}],
"mark":{"type":"line","color":"#f46c58","strokeWidth":2.2,"opacity":0.85},
"encoding":{
"x":{"field":"g","type":"quantitative","scale":{"domain":[0,1000],"nice":false,"zero":false},"axis":{"orient":"bottom","values":[0,100,200,300,400,500,600,700,800,900,1000],"format":"d","title":"Generation","tickSize":-5,"labelPadding":14,"titlePadding":12}},
"y":{"field":"f","type":"quantitative","scale":{"domain":[0,1],"nice":false,"zero":false},"axis":{"orient":"left","values":[0,0.2,0.4,0.6,0.8,1],"format":"~g","title":"Frequency","tickSize":-5,"labelPadding":12,"titlePadding":10}}
}},
{"data":{"name":"A"},"transform":[{"fold":["U","AA","BA","AB"],"as":["s","f"]},{"filter":"datum.s==='AB'"}],
"mark":{"type":"line","color":"#d966b8","strokeWidth":3,"opacity":0.8},
"encoding":{
"x":{"field":"g","type":"quantitative","scale":{"domain":[0,1000],"nice":false,"zero":false},"axis":{"orient":"top","values":[0,100,200,300,400,500,600,700,800,900,1000],"labels":false,"title":null,"tickSize":-5}},
"y":{"field":"f","type":"quantitative","scale":{"domain":[0,1],"nice":false,"zero":false},"axis":{"orient":"right","values":[0,0.2,0.4,0.6,0.8,1],"labels":false,"title":null,"tickSize":-5}}
}},
{"data":{"name":"A"},"transform":[{"fold":["U","AA","BA","AB"],"as":["s","f"]},{"filter":"datum.s==='AA'"}],
"mark":{"type":"line","color":"#17a248","strokeWidth":1.6}},
{"data":{"name":"A"},"transform":[{"fold":["U","AA","BA","AB"],"as":["s","f"]},{"filter":"datum.s==='BA'"}],
"mark":{"type":"line","color":"#2466c8","strokeWidth":2}},
{"data":{"name":"br"},"transform":[{"filter":"datum.p==='A'"}],
"mark":{"type":"line","color":"#111","strokeWidth":2,"interpolate":"monotone"},
"encoding":{"detail":{"field":"b"}}},
{"data":{"name":"arr"},"transform":[{"filter":"datum.p==='A'"}],
"mark":{"type":"rule","color":"#111","strokeWidth":2},
"encoding":{"x2":{"field":"g2"},"y2":{"field":"f2"}}},
{"data":{"name":"arr"},"transform":[{"filter":"datum.p==='A'"}],
"mark":{"type":"point","shape":"M0,-1L0.6,0.7L-0.6,0.7Z","filled":true,"color":"#111","opacity":1,"size":256,"strokeWidth":0},
"encoding":{"angle":{"field":"a","type":"quantitative","scale":null}}},
{"data":{"name":"txt"},"transform":[{"filter":"datum.p==='A' && datum.k==='leg'"}],
"mark":{"type":"text","align":"right","baseline":"middle","font":"Liberation Sans","fontSize":19.5,"clip":false},
"encoding":{"text":{"field":"t"},"color":{"field":"c","type":"nominal","scale":{"domain":["k","U","AA","BA","AB"],"range":["#222222","#f2684e","#4cb85e","#1e60c4","#e271b6"]},"legend":null}}},
{"data":{"name":"txt"},"transform":[{"filter":"datum.p==='A' && datum.k==='legi'"}],
"mark":{"type":"text","align":"right","baseline":"middle","font":"Liberation Sans","fontSize":19.5,"fontStyle":"italic","clip":false},
"encoding":{"text":{"field":"t"},"color":{"field":"c","type":"nominal","scale":{"domain":["k","U","AA","BA","AB"],"range":["#222222","#f2684e","#4cb85e","#1e60c4","#e271b6"]},"legend":null}}},
{"data":{"name":"txt"},"transform":[{"filter":"datum.p==='A' && datum.k==='n'"}],
"mark":{"type":"text","align":"left","baseline":"middle","font":"Liberation Sans","fontSize":21,"color":"#222","clip":false},
"encoding":{"text":{"field":"t"}}},
{"data":{"name":"txt"},"transform":[{"filter":"datum.p==='A' && datum.k==='i'"}],
"mark":{"type":"text","align":"left","baseline":"middle","font":"Liberation Sans","fontSize":21,"fontStyle":"italic","clip":false},
"encoding":{"text":{"field":"t"},"color":{"field":"c","type":"nominal","scale":{"domain":["k","U","AA","BA","AB"],"range":["#222222","#f2684e","#4cb85e","#1e60c4","#e271b6"]},"legend":null}}},
{"data":{"name":"txt"},"transform":[{"filter":"datum.p==='A' && datum.k==='lab'"}],
"mark":{"type":"text","align":"left","baseline":"middle","font":"Liberation Serif","fontSize":26,"fontWeight":"bold","color":"#111","clip":false},
"encoding":{"text":{"field":"t"}}}
]
},
{
"width":537,"height":265,
"encoding":{
"x":{"field":"g","type":"quantitative","scale":{"domain":[0,1000],"nice":false,"zero":false},"axis":null},
"y":{"field":"f","type":"quantitative","scale":{"domain":[0,1],"nice":false,"zero":false},"axis":null}
},
"layer":[
{"data":{"name":"B"},"transform":[{"fold":["U","AA","BA","AB"],"as":["s","f"]},{"filter":"datum.s==='U'"}],
"mark":{"type":"line","color":"#f46c58","strokeWidth":2.2,"opacity":0.85},
"encoding":{
"x":{"field":"g","type":"quantitative","scale":{"domain":[0,1000],"nice":false,"zero":false},"axis":{"orient":"bottom","values":[0,100,200,300,400,500,600,700,800,900,1000],"format":"d","title":"Generation","tickSize":-5,"labelPadding":14,"titlePadding":5}},
"y":{"field":"f","type":"quantitative","scale":{"domain":[0,1],"nice":false,"zero":false},"axis":{"orient":"left","values":[0,0.2,0.4,0.6,0.8,1],"format":"~g","title":"Frequency","tickSize":-5,"labelPadding":12,"titlePadding":10}}
}},
{"data":{"name":"B"},"transform":[{"fold":["U","AA","BA","AB"],"as":["s","f"]},{"filter":"datum.s==='AB'"}],
"mark":{"type":"line","color":"#d966b8","strokeWidth":3,"opacity":0.8},
"encoding":{
"x":{"field":"g","type":"quantitative","scale":{"domain":[0,1000],"nice":false,"zero":false},"axis":{"orient":"top","values":[0,100,200,300,400,500,600,700,800,900,1000],"labels":false,"title":null,"tickSize":-5}},
"y":{"field":"f","type":"quantitative","scale":{"domain":[0,1],"nice":false,"zero":false},"axis":{"orient":"right","values":[0,0.2,0.4,0.6,0.8,1],"labels":false,"title":null,"tickSize":-5}}
}},
{"data":{"name":"B"},"transform":[{"fold":["U","AA","BA","AB"],"as":["s","f"]},{"filter":"datum.s==='AA'"}],
"mark":{"type":"line","color":"#17a248","strokeWidth":1.6}},
{"data":{"name":"B"},"transform":[{"fold":["U","AA","BA","AB"],"as":["s","f"]},{"filter":"datum.s==='BA'"}],
"mark":{"type":"line","color":"#2466c8","strokeWidth":2}},
{"data":{"name":"br"},"transform":[{"filter":"datum.p==='B'"}],
"mark":{"type":"line","color":"#111","strokeWidth":2,"interpolate":"monotone"},
"encoding":{"detail":{"field":"b"}}},
{"data":{"name":"arr"},"transform":[{"filter":"datum.p==='B'"}],
"mark":{"type":"rule","color":"#111","strokeWidth":2},
"encoding":{"x2":{"field":"g2"},"y2":{"field":"f2"}}},
{"data":{"name":"arr"},"transform":[{"filter":"datum.p==='B'"}],
"mark":{"type":"point","shape":"M0,-1L0.6,0.7L-0.6,0.7Z","filled":true,"color":"#111","opacity":1,"size":256,"strokeWidth":0},
"encoding":{"angle":{"field":"a","type":"quantitative","scale":null}}},
{"data":{"name":"txt"},"transform":[{"filter":"datum.p==='B' && datum.k==='leg'"}],
"mark":{"type":"text","align":"right","baseline":"middle","font":"Liberation Sans","fontSize":19.5,"clip":false},
"encoding":{"text":{"field":"t"},"color":{"field":"c","type":"nominal","scale":{"domain":["k","U","AA","BA","AB"],"range":["#222222","#f2684e","#4cb85e","#1e60c4","#e271b6"]},"legend":null}}},
{"data":{"name":"txt"},"transform":[{"filter":"datum.p==='B' && datum.k==='legi'"}],
"mark":{"type":"text","align":"right","baseline":"middle","font":"Liberation Sans","fontSize":19.5,"fontStyle":"italic","clip":false},
"encoding":{"text":{"field":"t"},"color":{"field":"c","type":"nominal","scale":{"domain":["k","U","AA","BA","AB"],"range":["#222222","#f2684e","#4cb85e","#1e60c4","#e271b6"]},"legend":null}}},
{"data":{"name":"txt"},"transform":[{"filter":"datum.p==='B' && datum.k==='n'"}],
"mark":{"type":"text","align":"left","baseline":"middle","font":"Liberation Sans","fontSize":21,"color":"#222","clip":false},
"encoding":{"text":{"field":"t"}}},
{"data":{"name":"txt"},"transform":[{"filter":"datum.p==='B' && datum.k==='i'"}],
"mark":{"type":"text","align":"left","baseline":"middle","font":"Liberation Sans","fontSize":21,"fontStyle":"italic","clip":false},
"encoding":{"text":{"field":"t"},"color":{"field":"c","type":"nominal","scale":{"domain":["k","U","AA","BA","AB"],"range":["#222222","#f2684e","#4cb85e","#1e60c4","#e271b6"]},"legend":null}}},
{"data":{"name":"txt"},"transform":[{"filter":"datum.p==='B' && datum.k==='lab'"}],
"mark":{"type":"text","align":"left","baseline":"middle","font":"Liberation Serif","fontSize":26,"fontWeight":"bold","color":"#111","clip":false},
"encoding":{"text":{"field":"t"}}}
]
}
],
"config":{
"view":{"stroke":null},
"axis":{"domainColor":"#111","domainWidth":2,"tickColor":"#111","tickWidth":1.5,"grid":false,"labelFlush":false,"labelOverlap":false,"labelFont":"Liberation Sans","labelFontSize":18,"labelColor":"#222","titleFont":"Liberation Sans","titleFontSize":21,"titleFontWeight":"normal","titleColor":"#222"}
}
}
